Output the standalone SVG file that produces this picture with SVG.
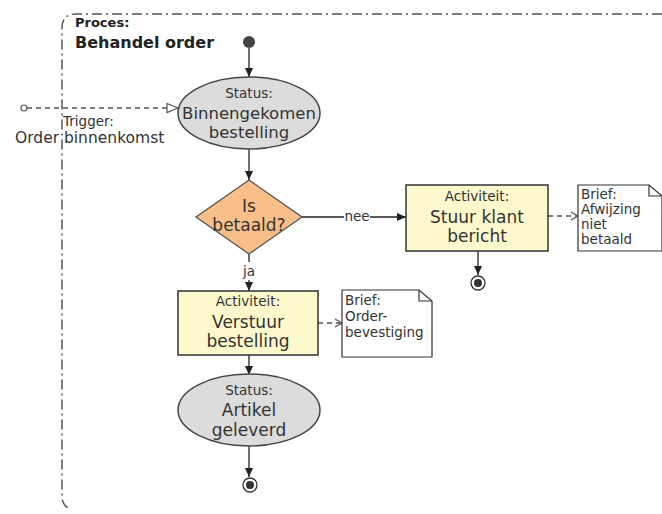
<svg xmlns="http://www.w3.org/2000/svg" width="662" height="514" viewBox="0 0 662 514">
  <style>
    text { font-family: "DejaVu Sans", Verdana, sans-serif; fill: #333; }
    .sm { font-size: 13.5px; }
    .lg { font-size: 16.5px; }
    .c { text-anchor: middle; }
    .state { fill: #dcdcdc; stroke: #444; stroke-width: 1.5; }
    .act { fill: #fdf9cc; stroke: #333; stroke-width: 1.5; }
    .doc { fill: #fff; stroke: #333; stroke-width: 1.2; }
    .flow { fill: none; stroke: #222; stroke-width: 1.3; }
    .dep { fill: none; stroke: #555; stroke-width: 1.3; stroke-dasharray: 5 4; }
  </style>
  <defs>
    <marker id="solid" markerWidth="10" markerHeight="10" refX="9" refY="5" orient="auto" markerUnits="userSpaceOnUse">
      <path d="M0,1 L9,5 L0,9 Z" fill="#222"/>
    </marker>
    <marker id="open" markerWidth="14" markerHeight="12" refX="12" refY="6" orient="auto" markerUnits="userSpaceOnUse">
      <path d="M1,1.5 L12,6 L1,10.5 Z" fill="#fff" stroke="#555" stroke-width="1.2"/>
    </marker>
    <marker id="line" markerWidth="10" markerHeight="10" refX="8" refY="5" orient="auto" markerUnits="userSpaceOnUse">
      <path d="M1,1 L8,5 L1,9" fill="none" stroke="#555" stroke-width="1.2"/>
    </marker>
  </defs>

  <rect width="662" height="514" fill="#fff"/>

  <!-- process frame -->
  <g id="frame">
    <path d="M662,14 H76 Q62,14 62,28 V496 Q62,504 68,508" fill="none" stroke="#555" stroke-width="1.5" stroke-dasharray="10 4 2 4"/>
    <text x="75" y="27" font-size="13" font-weight="bold" style="fill:#222">Proces:</text>
    <text x="75" y="48" font-size="16" font-weight="bold" style="fill:#222">Behandel order</text>
  </g>

  <!-- connectors -->
  <g id="connectors">
    <line class="flow" x1="249" y1="48" x2="249" y2="77" marker-end="url(#solid)"/>
    <line class="flow" x1="249" y1="149" x2="249" y2="180" marker-end="url(#solid)"/>
    <line class="flow" x1="302" y1="217" x2="344" y2="217"/>
    <line class="flow" x1="370" y1="217" x2="406" y2="217" marker-end="url(#solid)"/>
    <text class="sm c" x="357" y="221">nee</text>
    <line class="flow" x1="249" y1="254" x2="249" y2="262"/>
    <line class="flow" x1="249" y1="280" x2="249" y2="291" marker-end="url(#solid)"/>
    <text class="sm c" x="249" y="276">ja</text>
    <line class="flow" x1="478" y1="251" x2="478" y2="275" marker-end="url(#solid)"/>
    <line class="flow" x1="249" y1="355" x2="249" y2="375" marker-end="url(#solid)"/>
    <line class="flow" x1="249" y1="446" x2="249" y2="477" marker-end="url(#solid)"/>
    <line class="dep" x1="548" y1="216" x2="578" y2="216" marker-end="url(#line)"/>
    <line class="dep" x1="318" y1="323" x2="342" y2="323" marker-end="url(#line)"/>
    <!-- trigger -->
    <circle cx="24" cy="108" r="3" fill="#fff" stroke="#555" stroke-width="1.2"/>
    <line class="dep" x1="27" y1="108" x2="178" y2="108" marker-end="url(#open)"/>
  </g>

  <g id="trigger">
    <text class="sm" x="63" y="126">Trigger:</text>
    <text class="lg" x="15" y="143" style="font-size:15.5px">Order binnenkomst</text>
  </g>

  <g id="start">
    <circle cx="249" cy="42" r="6" fill="#444"/>
  </g>

  <g id="status-binnengekomen">
    <ellipse class="state" cx="249" cy="113" rx="71" ry="36"/>
    <text class="sm c" x="249" y="98">Status:</text>
    <text class="lg c" x="249" y="119">Binnengekomen</text>
    <text class="lg c" x="249" y="138">bestelling</text>
  </g>

  <g id="decision-betaald">
    <path d="M249,180 L302,217 L249,254 L196,217 Z" fill="#f9bf89" stroke="#555" stroke-width="1.3"/>
    <text class="c" x="249" y="212" font-size="17">Is</text>
    <text class="c" x="249" y="231" font-size="17">betaald?</text>
  </g>

  <g id="activity-stuur-klant">
    <rect class="act" x="406" y="185" width="142" height="66"/>
    <text class="sm c" x="477" y="201">Activiteit:</text>
    <text class="lg c" x="477" y="223" style="font-size:17px">Stuur klant</text>
    <text class="lg c" x="477" y="242" style="font-size:17px">bericht</text>
  </g>

  <g id="doc-afwijzing">
    <path class="doc" d="M578,185 H649 L662,196 V251 H578 Z"/>
    <path d="M649,185 V196 H662" fill="none" stroke="#333" stroke-width="1.2"/>
    <text class="sm" x="581" y="199">Brief:</text>
    <text class="sm" x="581" y="214">Afwijzing</text>
    <text class="sm" x="581" y="229">niet</text>
    <text class="sm" x="581" y="244">betaald</text>
  </g>

  <g id="end-niet-betaald">
    <circle cx="478" cy="283" r="7" fill="#fff" stroke="#333" stroke-width="1.3"/>
    <circle cx="478" cy="283" r="4" fill="#333"/>
  </g>

  <g id="activity-verstuur">
    <rect class="act" x="178" y="291" width="140" height="64"/>
    <text class="sm c" x="248" y="306">Activiteit:</text>
    <text class="lg c" x="248" y="328" style="font-size:17px">Verstuur</text>
    <text class="lg c" x="248" y="347" style="font-size:17px">bestelling</text>
  </g>

  <g id="doc-orderbevestiging">
    <path class="doc" d="M342,290 H419 L432,301 V357 H342 Z"/>
    <path d="M419,290 V301 H432" fill="none" stroke="#333" stroke-width="1.2"/>
    <text class="sm" x="345" y="305">Brief:</text>
    <text class="sm" x="345" y="321">Order-</text>
    <text class="sm" x="345" y="337">bevestiging</text>
  </g>

  <g id="status-geleverd">
    <ellipse class="state" cx="249" cy="410" rx="71" ry="36"/>
    <text class="sm c" x="249" y="395">Status:</text>
    <text class="lg c" x="249" y="416" style="font-size:17px">Artikel</text>
    <text class="lg c" x="249" y="436" style="font-size:17px">geleverd</text>
  </g>

  <g id="end-geleverd">
    <circle cx="250" cy="485" r="7" fill="#fff" stroke="#333" stroke-width="1.3"/>
    <circle cx="250" cy="485" r="4" fill="#333"/>
  </g>
</svg>
